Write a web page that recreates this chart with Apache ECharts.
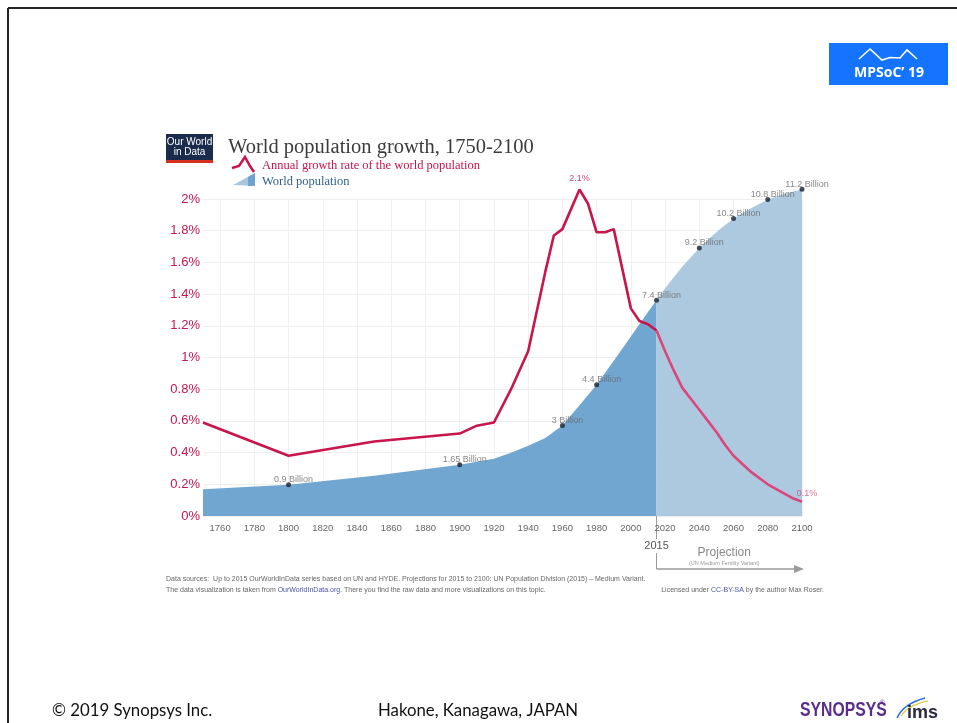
<!DOCTYPE html>
<html><head><meta charset="utf-8">
<script src="https://cdn.jsdelivr.net/npm/echarts@6/dist/echarts.min.js"></script>
<style>html,body{margin:0;padding:0;background:#fff}#c{width:957px;height:723px}</style>
</head><body><div id="c"></div>
<script>
// ---- data ----
const rateYearsHist = [1750,1800,1850,1900,1910,1920,1930,1940,1950,1955,1960,1970,1975,1980,1985,1990,2000,2005,2010,2015];
const rateHist      = [0.59,0.38,0.47,0.52,0.57,0.59,0.80,1.04,1.54,1.77,1.81,2.06,1.97,1.79,1.79,1.81,1.31,1.23,1.21,1.17];
const rateYearsProj = [2015,2020,2025,2030,2035,2040,2045,2050,2055,2060,2065,2070,2075,2080,2085,2090,2095,2100];
const rateProj      = [1.17,1.04,0.92,0.81,0.74,0.67,0.60,0.53,0.45,0.38,0.33,0.28,0.24,0.20,0.17,0.14,0.11,0.09];
const popYearsHist  = [1750,1800,1850,1900,1910,1920,1930,1940,1950,1960,1970,1980,1990,2000,2010,2015];
const popHist       = [0.79,0.95,1.26,1.64,1.74,1.85,2.06,2.30,2.57,3.00,3.70,4.41,5.24,6.08,6.93,7.34];
const popYearsProj  = [2015,2020,2030,2040,2050,2060,2070,2080,2090,2100];
const popProj       = [7.34,7.75,8.50,9.15,9.70,10.17,10.52,10.83,11.03,11.18];
const markerYears   = [1800,1900,1960,1980,2015,2040,2060,2080,2100];
const markerValues  = [0.95,1.64,3.00,4.41,7.34,9.15,10.17,10.83,11.18];
const markerLabels  = ['0.9 Billion','1.65 Billion','3 Billion','4.4 Billion','7.4 Billion','9.2 Billion','10.2 Billion','10.8 Billion','11.2 Billion'];
const xTickValues   = [1760,1780,1800,1820,1840,1860,1880,1900,1920,1940,1960,1980,2000,2020,2040,2060,2080,2100];
const rateLabelYears  = [1970, 2100];
const rateLabelValues = [2.06, 0.09];
const rateLabelTexts  = ['2.1%', '0.1%'];
const projectionStart = 2015;

const RED = '#c8154c', RED2 = '#d9477b';
const chart = echarts.init(document.getElementById('c'), null, {renderer: 'canvas'});
const zip = (a, b) => a.map((v, i) => [v, b[i]]);

chart.setOption({
  animation: false,
  backgroundColor: '#fff',
  textStyle: {fontFamily: 'Liberation Sans'},
  title: {
    text: 'World population growth, 1750-2100',
    left: 223, top: 132,
    textStyle: {fontFamily: 'Liberation Serif', fontSize: 20.5, fontWeight: 'normal', color: '#3b3b3b'}
  },
  grid: {left: 203, right: 155, top: 199, bottom: 207},
  xAxis: {
    type: 'value', min: 1750, max: 2100,
    axisLine: {show: false}, axisTick: {show: false, customValues: xTickValues},
    axisLabel: {customValues: xTickValues, color: '#666', fontSize: 9.5, margin: 7, formatter: v => String(v)},
    splitLine: {show: true, lineStyle: {color: '#f0f0f0', width: 1}}
  },
  yAxis: [{
    type: 'value', min: 0, max: 2, interval: 0.2,
    axisLine: {show: false}, axisTick: {show: false},
    axisLabel: {color: RED, fontSize: 13, margin: 3, formatter: v => parseFloat(v.toFixed(2)) + '%'},
    splitLine: {lineStyle: {color: '#eeeeee'}}
  }, {
    type: 'value', min: -0.135, max: 10.845, show: false, splitLine: {show: false}
  }],
  series: [{
    type: 'line', yAxisIndex: 1, data: zip(popYearsHist, popHist), symbol: 'none', clip: false,
    lineStyle: {width: 0}, areaStyle: {color: '#70a6d0', opacity: 1, origin: 'start'}, z: 1, silent: true
  }, {
    type: 'line', yAxisIndex: 1, data: zip(popYearsProj, popProj), symbol: 'none', clip: false,
    lineStyle: {width: 0}, areaStyle: {color: '#adc9df', opacity: 1, origin: 'start'}, z: 1, silent: true
  }, {
    type: 'line', yAxisIndex: 0, data: zip(rateYearsHist, rateHist), symbol: 'none', clip: false,
    lineStyle: {color: RED, width: 2.6}, z: 4
  }, {
    type: 'line', yAxisIndex: 0, data: zip(rateYearsProj, rateProj), symbol: 'none', clip: false,
    lineStyle: {color: RED2, width: 2.6}, z: 4
  }, {
    type: 'scatter', yAxisIndex: 0, clip: false, symbolSize: 2, z: 6, silent: true,
    itemStyle: {color: 'rgba(0,0,0,0)'},
    data: rateLabelYears.map((y, i) => ({value: [y, rateLabelValues[i]], name: rateLabelTexts[i],
      label: {offset: i === 0 ? [0, -2] : [5, 0], color: i === 0 ? RED : RED2}})),
    label: {show: true, position: 'top', distance: 3, formatter: p => p.name, fontSize: 9}
  }, {
    type: 'scatter', yAxisIndex: 1, clip: false, symbolSize: 5, z: 5,
    itemStyle: {color: '#18202e'},
    data: markerYears.map((y, i) => ({value: [y, markerValues[i]], name: markerLabels[i]})),
    label: {show: true, position: 'top', distance: 0, offset: [5, 2], formatter: p => p.name, color: '#6a6a6a', fontSize: 9}
  }]
});

// ---- annotations positioned from the axes ----
const x15 = chart.convertToPixel({xAxisIndex: 0}, projectionStart);
const xEnd = chart.convertToPixel({xAxisIndex: 0}, 2100);
const y0 = chart.convertToPixel({yAxisIndex: 0}, 0);
const gray = '#9a9a9a';
const g = [];
// slide border
g.push({type: 'line', shape: {x1: 8, y1: 8, x2: 957, y2: 8}, style: {stroke: '#222', lineWidth: 2}});
g.push({type: 'line', shape: {x1: 8, y1: 8, x2: 8, y2: 723}, style: {stroke: '#222', lineWidth: 2}});
// MPSoC logo
g.push({type: 'rect', shape: {x: 829, y: 43, width: 119, height: 42}, style: {fill: '#1473ff'}});
g.push({type: 'polyline', shape: {points: [[859,59],[870,49],[882,60],[890,57.5],[900,58],[907,50],[917,59]]}, style: {stroke: '#fff', lineWidth: 1.6, fill: null}});
g.push({type: 'text', x: 889, y: 73, style: {text: 'MPSoC\u2019 19', fill: '#fff', font: 'bold 14px "Open Sans"', align: 'center', verticalAlign: 'middle'}});
// OWID logo
g.push({type: 'rect', shape: {x: 166, y: 134, width: 47, height: 26}, style: {fill: '#1a2b4c'}});
g.push({type: 'rect', shape: {x: 166, y: 160, width: 47, height: 3}, style: {fill: '#d6311f'}});
g.push({type: 'text', x: 189.5, y: 142, style: {text: 'Our World', fill: '#fff', font: '10px "Liberation Sans"', align: 'center', verticalAlign: 'middle'}});
g.push({type: 'text', x: 189.5, y: 152.5, style: {text: 'in Data', fill: '#fff', font: '10px "Liberation Sans"', align: 'center', verticalAlign: 'middle'}});
// legend
g.push({type: 'polyline', shape: {points: [[232,168],[239,166],[245,157],[250,166],[254,172]]}, style: {stroke: RED, lineWidth: 2.5, fill: null}});
g.push({type: 'text', x: 262, y: 166, style: {text: 'Annual growth rate of the world population', fill: RED, font: '12.5px "Liberation Serif"', verticalAlign: 'middle'}});
g.push({type: 'polygon', shape: {points: [[233,185],[255,173],[255,186]]}, style: {fill: '#a9c6de'}});
g.push({type: 'polygon', shape: {points: [[248,177],[255,173],[255,186],[248,186]]}, style: {fill: '#6fa4cf'}});
g.push({type: 'text', x: 262, y: 182, style: {text: 'World population', fill: '#2f5f8e', font: '12.5px "Liberation Serif"', verticalAlign: 'middle'}});
// 2015 projection marker
g.push({type: 'line', shape: {x1: x15, y1: y0, x2: x15, y2: y0 + 23}, style: {stroke: gray, lineWidth: 1}});
g.push({type: 'text', x: x15, y: y0 + 30, style: {text: String(projectionStart), fill: '#555', font: '11px "Liberation Sans"', align: 'center', verticalAlign: 'middle'}});
g.push({type: 'line', shape: {x1: x15, y1: y0 + 37, x2: x15, y2: y0 + 53}, style: {stroke: gray, lineWidth: 1}});
g.push({type: 'line', shape: {x1: x15, y1: y0 + 53, x2: xEnd - 4, y2: y0 + 53}, style: {stroke: gray, lineWidth: 1.3}});
g.push({type: 'polygon', shape: {points: [[xEnd + 2, y0 + 53], [xEnd - 8, y0 + 49], [xEnd - 8, y0 + 57]]}, style: {fill: gray}});
g.push({type: 'text', x: (x15 + xEnd) / 2 - 5, y: y0 + 37, style: {text: 'Projection', fill: '#888', font: '12px "Liberation Sans"', align: 'center', verticalAlign: 'middle'}});
g.push({type: 'text', x: (x15 + xEnd) / 2 - 5, y: y0 + 47, style: {text: '(UN Medium Fertility Variant)', fill: '#999', font: '5.5px "Liberation Sans"', align: 'center', verticalAlign: 'middle'}});
// sources
g.push({type: 'text', x: 166, y: 579, style: {text: 'Data sources:  Up to 2015 OurWorldInData series based on UN and HYDE. Projections for 2015 to 2100: UN Population Division (2015) \u2013 Medium Variant.', fill: '#666', font: '7px "Liberation Sans"', verticalAlign: 'middle'}});
g.push({type: 'text', x: 166, y: 590, style: {rich: {a: {fill: '#666', font: '7px "Liberation Sans"'}, b: {fill: '#4a55a0', font: '7px "Liberation Sans"'}}, text: '{a|The data visualization is taken from }{b|OurWorldInData.org}{a|. There you find the raw data and more visualizations on this topic.}', verticalAlign: 'middle'}});
g.push({type: 'text', x: 824, y: 590, style: {rich: {a: {fill: '#666', font: '7px "Liberation Sans"'}, b: {fill: '#4a55a0', font: '7px "Liberation Sans"'}}, text: '{a|Licensed under }{b|CC-BY-SA}{a| by the author Max Roser.}', align: 'right', verticalAlign: 'middle'}});
// footer
g.push({type: 'text', x: 52, y: 711, style: {text: '\u00a9 2019 Synopsys Inc.', fill: '#111', font: '16.8px Lato', verticalAlign: 'middle'}});
g.push({type: 'text', x: 378, y: 711, style: {text: 'Hakone, Kanagawa, JAPAN', fill: '#111', font: '16.8px Lato', verticalAlign: 'middle'}});
g.push({type: 'text', x: 800, y: 710, scaleX: 0.75, style: {text: 'SYNOPSYS', fill: '#5a2d8c', font: 'bold 21px "Liberation Sans"', verticalAlign: 'middle'}});
g.push({type: 'text', x: 880, y: 702, style: {text: '\u00ae', fill: '#5a2d8c', font: '6px "Liberation Sans"', verticalAlign: 'middle'}});
g.push({type: 'bezierCurve', shape: {x1: 897, y1: 718, x2: 925, y2: 698, cpx1: 903, cpy1: 704}, style: {stroke: '#2a6fd6', lineWidth: 1.5, fill: null}});
g.push({type: 'bezierCurve', shape: {x1: 901, y1: 716, x2: 928, y2: 701, cpx1: 908, cpy1: 705}, style: {stroke: '#e6c21f', lineWidth: 1.2, fill: null}});
g.push({type: 'text', x: 907, y: 713, style: {text: 'ims', fill: '#2b2b40', font: 'bold 18px "Liberation Sans"', verticalAlign: 'middle'}});
chart.setOption({graphic: {elements: g}});
</script></body></html>
